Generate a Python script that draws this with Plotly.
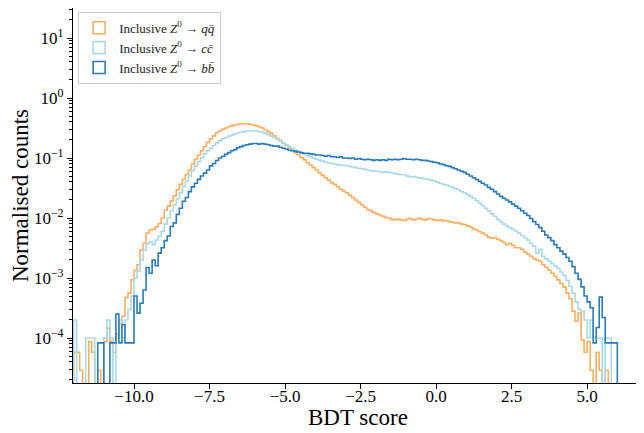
import plotly.graph_objects as go

# ---------------- data (normalised counts per bin, bins of width 0.1 from -12.0 to 6.1) ----------------
bin_start = -12.0
bin_width = 0.1

qq_counts = [
    # -12.0 .. -11.1
    5.8e-5, 5.8e-5, 2.9e-5, 0, 0, 8.7e-5, 5.8e-5, 0, 2.9e-5, 0,
    # -11.0 .. -10.1
    8.7e-5, 1.45e-4, 8.7e-5, 5.8e-5, 1.16e-4, 1.74e-4, 2.3e-4, 4.7e-4, 5.6e-4, 9.3e-4,
    # -10.0 .. -9.1
    1.35e-3, 1.66e-3, 2.95e-3, 3.8e-3, 5.6e-3, 6.3e-3, 6.5e-3, 7.1e-3, 8.1e-3, 1.0e-2,
    # -9.0 .. -8.1
    1.35e-2, 1.58e-2, 1.91e-2, 2.34e-2, 2.95e-2, 3.63e-2, 4.37e-2, 5.25e-2, 6.31e-2, 7.94e-2,
    # -8.0 .. -7.1
    9.55e-2, 0.112, 0.132, 0.155, 0.182, 0.209, 0.234, 0.263, 0.282, 0.302,
    # -7.0 .. -6.1
    0.316, 0.331, 0.347, 0.355, 0.363, 0.372, 0.372, 0.372, 0.363, 0.355,
    # -6.0 .. -5.1
    0.347, 0.331, 0.316, 0.295, 0.275, 0.257, 0.234, 0.214, 0.195, 0.178,
    # -5.0 .. -4.1
    0.162, 0.148, 0.135, 0.123, 0.112, 0.102, 0.0933, 0.0832, 0.0759, 0.0692,
    # -4.0 .. -3.1
    0.0631, 0.0562, 0.0513, 0.0468, 0.0427, 0.0389, 0.0363, 0.0331, 0.0302, 0.0282,
    # -3.0 .. -2.1
    0.0263, 0.0240, 0.0219, 0.0200, 0.0182, 0.0166, 0.0151, 0.0138, 0.0132, 0.0123,
    # -2.0 .. -1.1
    0.0117, 0.0112, 0.0107, 0.0102, 0.0100, 0.0095, 0.0093, 0.0096, 0.0093, 0.0091,
    # -1.0 .. -0.1
    0.0096, 0.0098, 0.0093, 0.0096, 0.0100, 0.0095, 0.0093, 0.0098, 0.0096, 0.0093,
    # 0.0 .. 0.9
    0.0091, 0.0093, 0.0089, 0.0091, 0.0087, 0.0085, 0.0083, 0.0083, 0.0079, 0.0078,
    # 1.0 .. 1.9
    0.0074, 0.0071, 0.0066, 0.0063, 0.0059, 0.0056, 0.0052, 0.0048, 0.0046, 0.0047,
    # 2.0 .. 2.9
    0.0044, 0.0042, 0.0039, 0.0036, 0.0038, 0.0035, 0.0032, 0.0032, 0.0030, 0.0027,
    # 3.0 .. 3.9
    0.0025, 0.0023, 0.0021, 0.0020, 0.0019, 0.00166, 0.00151, 0.00135, 0.00120, 0.00107,
    # 4.0 .. 4.9
    0.00093, 0.00081, 0.00071, 0.00056, 0.00045, 0.00028, 0.00019, 0.00026, 9.3e-5, 5.8e-5,
    # 5.0 .. 5.9
    8.7e-5, 2.9e-5, 0, 5.8e-5, 2.9e-5, 0, 2.9e-5, 0, 0, 0,
    # 6.0
    0,
]

cc_counts = [
    # -12.0 .. -11.1
    2.0e-4, 0, 0, 0, 1.0e-4, 1.0e-4, 1.0e-4, 0, 0, 0,
    # -11.0 .. -10.1
    1.0e-4, 2.0e-4, 1.0e-4, 0, 1.0e-4, 2.0e-4, 1.0e-4, 2.0e-4, 3.0e-4, 5.0e-4,
    # -10.0 .. -9.1
    1.0e-3, 1.3e-3, 2.0e-3, 2.9e-3, 3.7e-3, 4.0e-3, 3.6e-3, 4.3e-3, 5.0e-3, 6.0e-3,
    # -9.0 .. -8.1
    7.9e-3, 1.0e-2, 1.32e-2, 1.66e-2, 2.09e-2, 2.63e-2, 3.31e-2, 4.07e-2, 5.0e-2, 6.17e-2,
    # -8.0 .. -7.1
    7.4e-2, 8.7e-2, 0.102, 0.117, 0.132, 0.145, 0.162, 0.178, 0.195, 0.209,
    # -7.0 .. -6.1
    0.219, 0.229, 0.240, 0.251, 0.263, 0.269, 0.275, 0.282, 0.282, 0.282,
    # -6.0 .. -5.1
    0.282, 0.275, 0.269, 0.257, 0.245, 0.234, 0.219, 0.204, 0.191, 0.178,
    # -5.0 .. -4.1
    0.166, 0.155, 0.145, 0.135, 0.129, 0.120, 0.115, 0.110, 0.105, 0.100,
    # -4.0 .. -3.1
    0.0955, 0.0912, 0.0891, 0.0851, 0.0832, 0.0813, 0.0794, 0.0776, 0.0759, 0.0759,
    # -3.0 .. -2.1
    0.0741, 0.0724, 0.0708, 0.0692, 0.0676, 0.0661, 0.0646, 0.0631, 0.0617, 0.0603,
    # -2.0 .. -1.1
    0.0603, 0.0589, 0.0575, 0.0589, 0.0575, 0.0562, 0.0550, 0.0537, 0.0525, 0.0525,
    # -1.0 .. -0.1
    0.0501, 0.0490, 0.0490, 0.0479, 0.0468, 0.0457, 0.0447, 0.0437, 0.0427, 0.0417,
    # 0.0 .. 0.9
    0.0398, 0.0380, 0.0363, 0.0355, 0.0339, 0.0324, 0.0309, 0.0295, 0.0275, 0.0263,
    # 1.0 .. 1.9
    0.0245, 0.0229, 0.0214, 0.0195, 0.0178, 0.0162, 0.0145, 0.0132, 0.0117, 0.0107,
    # 2.0 .. 2.9
    0.0095, 0.0087, 0.0079, 0.0074, 0.0069, 0.0065, 0.0060, 0.0056, 0.0051, 0.0047,
    # 3.0 .. 3.9
    0.0043, 0.0038, 0.0034, 0.0026, 0.0030, 0.0023, 0.0021, 0.0019, 0.00174, 0.00158,
    # 4.0 .. 4.9
    0.00145, 0.00126, 0.00110, 0.00091, 0.00072, 0.00056, 0.00040, 0.00030, 0.00028, 2.0e-4,
    # 5.0 .. 5.9
    1.0e-4, 2.0e-4, 1.0e-4, 1.0e-4, 1.0e-4, 0, 1.0e-4, 1.0e-4, 0, 0,
    # 6.0
    0,
]

bb_counts = [
    # -12.0 .. -11.1
    0, 0, 0, 0, 0, 0, 0, 0, 8.3e-5, 8.3e-5,
    # -11.0 .. -10.1
    0, 0, 8.3e-5, 8.3e-5, 2.5e-4, 8.3e-5, 1.66e-4, 8.3e-5, 8.3e-5, 8.3e-5,
    # -10.0 .. -9.1
    5.0e-4, 2.6e-4, 3.8e-4, 6.3e-4, 1.5e-3, 1.2e-3, 2.0e-3, 1.6e-3, 2.6e-3, 3.2e-3,
    # -9.0 .. -8.1
    4.2e-3, 5.0e-3, 7.2e-3, 8.3e-3, 1.15e-2, 1.45e-2, 1.9e-2, 2.2e-2, 2.75e-2, 3.3e-2,
    # -8.0 .. -7.1
    3.8e-2, 4.4e-2, 5.0e-2, 5.6e-2, 6.3e-2, 7.4e-2, 8.1e-2, 9.1e-2, 0.100, 0.107,
    # -7.0 .. -6.1
    0.115, 0.123, 0.132, 0.138, 0.148, 0.155, 0.162, 0.166, 0.170, 0.174,
    # -6.0 .. -5.1
    0.174, 0.170, 0.174, 0.170, 0.166, 0.162, 0.158, 0.158, 0.151, 0.145,
    # -5.0 .. -4.1
    0.141, 0.135, 0.132, 0.129, 0.126, 0.123, 0.120, 0.120, 0.117, 0.115,
    # -4.0 .. -3.1
    0.112, 0.112, 0.110, 0.107, 0.110, 0.105, 0.105, 0.102, 0.105, 0.100,
    # -3.0 .. -2.1
    0.100, 0.098, 0.100, 0.0955, 0.098, 0.0955, 0.0933, 0.0955, 0.0933, 0.0912,
    # -2.0 .. -1.1
    0.0933, 0.0912, 0.0933, 0.0912, 0.0955, 0.0933, 0.0955, 0.0933, 0.0955, 0.098,
    # -1.0 .. -0.1
    0.0955, 0.0955, 0.0933, 0.0955, 0.0933, 0.0912, 0.0912, 0.0891, 0.0871, 0.0851,
    # 0.0 .. 0.9
    0.0832, 0.0794, 0.0776, 0.0741, 0.0724, 0.0692, 0.0661, 0.0631, 0.0603, 0.0575,
    # 1.0 .. 1.9
    0.0537, 0.0501, 0.0468, 0.0437, 0.0407, 0.0380, 0.0355, 0.0324, 0.0302, 0.0275,
    # 2.0 .. 2.9
    0.0251, 0.0229, 0.0214, 0.0200, 0.0186, 0.0170, 0.0158, 0.0145, 0.0132, 0.0120,
    # 3.0 .. 3.9
    0.0110, 0.0098, 0.0087, 0.0078, 0.0069, 0.0060, 0.0052, 0.0047, 0.0042, 0.0036,
    # 4.0 .. 4.9
    0.0032, 0.0028, 0.0025, 0.0022, 0.0019, 0.00155, 0.00120, 0.00095, 0.00071, 0.00050,
    # 5.0 .. 5.9
    0.00040, 0.00032, 8.3e-5, 1.5e-4, 4.8e-4, 2.2e-4, 8.3e-5, 8.3e-5, 8.3e-5, 8.3e-5,
    # 6.0
    0,
]

series_names = [
    "Inclusive <i>Z</i><sup>0</sup> → <i>q</i><i>q̄</i>",
    "Inclusive <i>Z</i><sup>0</sup> → <i>c</i><i>c̄</i>",
    "Inclusive <i>Z</i><sup>0</sup> → <i>b</i><i>b̄</i>",
]
series_colors = ["#fdae61", "#abd9e9", "#2c7bb6"]

x_tick_vals = [-10.0, -7.5, -5.0, -2.5, 0.0, 2.5, 5.0]
x_tick_text = ["−10.0", "−7.5", "−5.0", "−2.5", "0.0", "2.5", "5.0"]
y_tick_vals = [1e-4, 1e-3, 1e-2, 1e-1, 1e0, 1e1]
y_tick_text = ["10<sup>−4</sup>", "10<sup>−3</sup>", "10<sup>−2</sup>",
               "10<sup>−1</sup>", "10<sup>0</sup>", "10<sup>1</sup>"]
x_title = "BDT score"
y_title = "Normalised counts"

# ---------------- figure ----------------
FONT = "Liberation Serif"
FLOOR = 1e-9  # empty bins drop below the visible range (like a log-scale step histogram)

n_bins = len(qq_counts)
edges = [round(bin_start + bin_width * i, 4) for i in range(n_bins + 1)]

fig = go.Figure()

for name, color, counts in zip(series_names, series_colors, [qq_counts, cc_counts, bb_counts]):
    vals = [v if v > 0 else FLOOR for v in counts]
    xs = [edges[0]] + edges[:-1] + [edges[-1]]
    ys = [FLOOR] + vals + [FLOOR]
    fig.add_trace(go.Scatter(
        x=xs, y=ys, mode="lines", line=dict(color=color, width=1.6, shape="hv"),
        showlegend=False, hoverinfo="skip",
    ))

# legend entries as outlined rectangles (like matplotlib step-hist patches)
for name, color in zip(series_names, series_colors):
    fig.add_trace(go.Bar(
        x=[None], y=[None], name=name,
        marker=dict(color="rgba(255,255,255,0)", line=dict(color=color, width=1.6)),
    ))

minor_vals = [m * 10.0 ** k for k in range(-5, 2) for m in range(2, 10)]

fig.update_layout(
    width=644, height=433,
    margin=dict(l=65, r=9, t=0, b=58, autoexpand=False),
    paper_bgcolor="white", plot_bgcolor="white",
    font=dict(family=FONT, color="black", size=17),
    showlegend=True,
    legend=dict(
        x=0.009, y=0.99, xanchor="left", yanchor="top",
        bgcolor="rgba(255,255,255,0.85)", bordercolor="#cccccc", borderwidth=1,
        font=dict(family=FONT, size=13, color="#222222"),
        itemwidth=30, tracegroupgap=0,
    ),
    xaxis=dict(
        range=[-12.02, 6.85], tickvals=x_tick_vals, ticktext=x_tick_text,
        ticks="outside", ticklen=5, tickwidth=1, tickcolor="black",
        ticklabelstandoff=-7,
        showline=True, linecolor="black", linewidth=1.1, mirror=True,
        showgrid=False, zeroline=False,
        tickfont=dict(family=FONT, size=17),
    ),
    yaxis=dict(
        type="log", range=[-4.75, 1.5], tickvals=y_tick_vals, ticktext=y_tick_text,
        ticks="outside", ticklen=5, tickwidth=1, tickcolor="black",
        showline=True, linecolor="black", linewidth=1.1, mirror=True,
        showgrid=False, zeroline=False,
        minor=dict(tickvals=minor_vals, ticks="outside", ticklen=3, tickwidth=0.8,
                   tickcolor="black", showgrid=False),
        tickfont=dict(family=FONT, size=17),
        title=dict(text=y_title, font=dict(family=FONT, size=23), standoff=6),
    ),
    annotations=[dict(
        text=x_title, xref="paper", yref="paper", x=0.5, y=-0.092,
        xanchor="center", yanchor="middle", showarrow=False,
        font=dict(family=FONT, size=23, color="black"),
    )],
)

fig.write_html("out.html")
